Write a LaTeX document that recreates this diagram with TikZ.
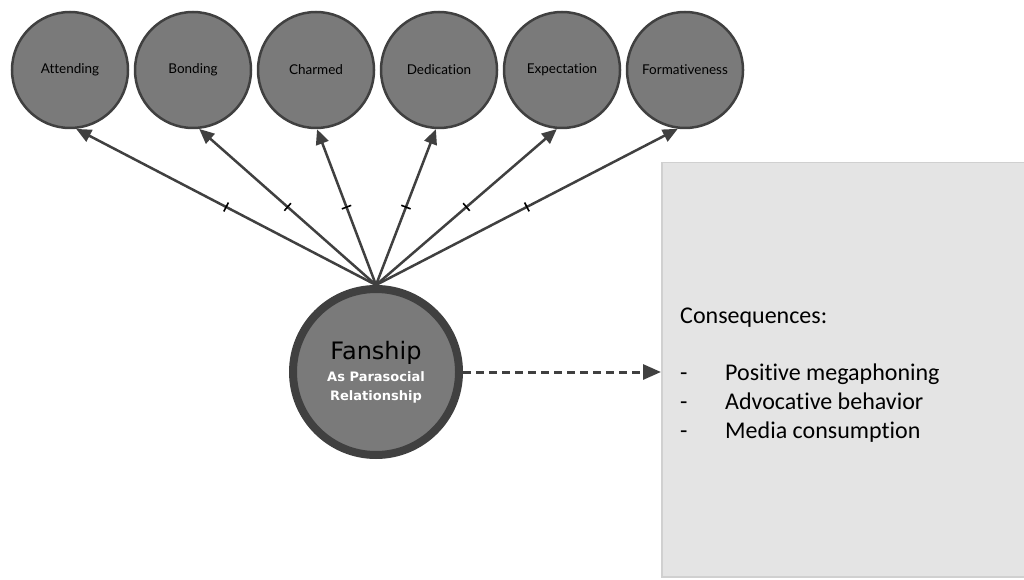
\documentclass[tikz,border=0pt]{standalone}
\usepackage{fontspec}
\setmainfont{Carlito}[Ligatures=NoCommon]
\newfontfamily\circfont{Lato}[Ligatures=NoCommon]
\newfontfamily\fanfont{DejaVu Sans}
\usepackage{tikz}
\usetikzlibrary{positioning, arrows.meta, decorations.markings}

\definecolor{circgray}{HTML}{7A7A7A}
\definecolor{rimgray}{HTML}{404040}
\definecolor{boxgray}{HTML}{E4E4E4}
\definecolor{boxrim}{HTML}{D0D0D0}

\newcommand{\subline}[1]{\textcolor{white}{\bfseries #1}}

\begin{document}
\begin{tikzpicture}[
  x=1pt, y=-1pt,
  facet/.style={circle, draw=rimgray, fill=circgray, line width=2.5pt,
    minimum size=116pt, inner sep=0pt, font=\circfont\fontsize{13.5}{15}\selectfont},
  core/.style={circle, draw=rimgray, fill=circgray, line width=8pt,
    minimum size=166pt, inner sep=0pt, align=center},
  consbox/.style={draw=boxrim, fill=boxgray, line width=1.5pt,
    minimum width=372pt, minimum height=414pt, anchor=north west},
  link/.style={-{Triangle[length=15pt,width=13pt]}, line width=2.5pt, draw=rimgray,
    postaction={decorate}, decoration={markings, mark=at position 0.5 with
      {\draw[-, line width=1.6pt, black] (0,-5pt) -- (0,5pt);}}},
  flow/.style={-{Triangle[length=18pt,width=15pt]}, line width=3pt, draw=rimgray,
    dash pattern=on 8pt off 5pt},
  listtext/.style={anchor=base west, inner sep=0pt, font=\fontsize{24}{28}\selectfont},
]
  \useasboundingbox (0,0) rectangle (1024,580);

  % consequences panel
  \node[consbox] (cons) at (661,162) {};
  \node[listtext] (head) at (680,323) {Consequences:};
  \node[listtext] (dash1) at (680,380) {-};
  \node[listtext] (dash2) at (680,409) {-};
  \node[listtext] (dash3) at (680,438) {-};
  \node[listtext] (item1) at (725,380) {Positive megaphoning};
  \node[listtext] (item2) at (725,409) {Advocative behavior};
  \node[listtext] (item3) at (725,438) {Media consumption};

  % dimensions
  \node[facet] (att) at (70,70) {Attending};
  \node[facet, right=4.5pt of att] (bon) {Bonding};
  \node[facet, right=4.5pt of bon] (cha) {Charmed};
  \node[facet, right=4.5pt of cha] (ded) {Dedication};
  \node[facet, right=4.5pt of ded] (exp) {Expectation};
  \node[facet, right=4.5pt of exp] (frm) {Formativeness};

  \node[core, font=\fanfont\fontsize{13}{19}\selectfont] (fan) at (376,372)
    {{\fontsize{24}{26}\selectfont Fanship}\\[3pt]
     \subline{As Parasocial}\\
     \subline{Relationship}};

  \draw[link] (fan.north) -- (att.276);
  \draw[link] (fan.north) -- (bon.276);
  \draw[link] (fan.north) -- (cha.271);
  \draw[link] (fan.north) -- (ded.267);
  \draw[link] (fan.north) -- (exp.265);
  \draw[link] (fan.north) -- (frm.263);

  \draw[flow] (fan.east) -- (fan.east -| cons.west);
\end{tikzpicture}
\end{document}
